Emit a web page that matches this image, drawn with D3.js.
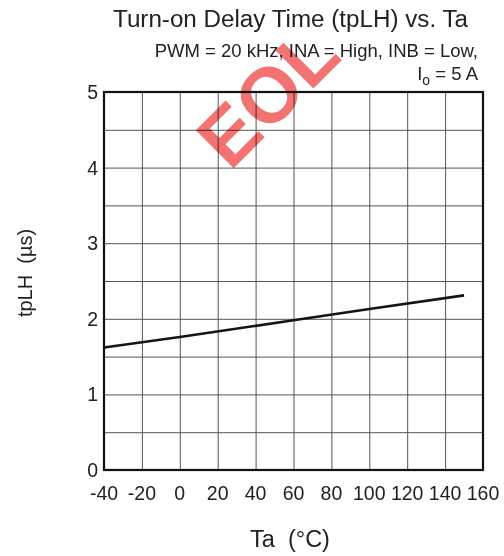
<!DOCTYPE html>
<html>
<head>
<meta charset="utf-8">
<script src="https://cdn.jsdelivr.net/npm/d3@7"></script>
<style>
  html, body { margin: 0; padding: 0; background: #fff; }
  svg { display: block; font-family: "Liberation Sans", Arial, sans-serif; }
</style>
</head>
<body>
<div id="chart"></div>
<script>
// values
const temps = [-40, 0, 60, 100, 150]
const delay = [1.62, 1.76, 1.98, 2.13, 2.31]
const xTicks = [-40, -20, 0, 20, 40, 60, 80, 100, 120, 140, 160]
const yTicks = [0, 1, 2, 3, 4, 5]
const yGrid = [0.5, 1, 1.5, 2, 2.5, 3, 3.5, 4, 4.5]

const width = 504
const height = 556
const margin = { top: 92, right: 21, bottom: 86, left: 104 }

const svg = d3.select('#chart').append('svg')
  .attr('width', width)
  .attr('height', height)

const x = d3.scaleLinear().domain([-40, 160]).range([margin.left, width - margin.right])
const y = d3.scaleLinear().domain([0, 5]).range([height - margin.bottom, margin.top])

// grid
svg.append('g')
  .attr('transform', 'translate(0,' + (height - margin.bottom) + ')')
  .call(d3.axisBottom(x).tickValues(xTicks.slice(1, -1)).tickSize(-(y(0) - y(5))).tickFormat(''))
  .call(g => g.select('.domain').remove())
  .call(g => g.selectAll('line').attr('stroke', '#555').attr('stroke-width', 1))

svg.append('g')
  .attr('transform', 'translate(' + margin.left + ',0)')
  .call(d3.axisLeft(y).tickValues(yGrid).tickSize(-(x(160) - x(-40))).tickFormat(''))
  .call(g => g.select('.domain').remove())
  .call(g => g.selectAll('line').attr('stroke', '#555').attr('stroke-width', 1))

// frame
svg.append('rect')
  .attr('x', x(-40)).attr('y', y(5))
  .attr('width', x(160) - x(-40)).attr('height', y(0) - y(5))
  .attr('fill', 'none').attr('stroke', '#111').attr('stroke-width', 2.2)

// tick labels
svg.append('g').selectAll('text')
  .data(xTicks).enter().append('text')
    .attr('x', d => x(d))
    .attr('y', 500)
    .attr('text-anchor', 'middle')
    .attr('font-size', 19.5)
    .attr('fill', '#222')
    .text(d => d)

svg.append('g').selectAll('text')
  .data(yTicks).enter().append('text')
    .attr('x', 98)
    .attr('y', d => y(d))
    .attr('dy', '0.36em')
    .attr('text-anchor', 'end')
    .attr('font-size', 19.5)
    .attr('fill', '#222')
    .text(d => d)

// curve
const line = d3.line()
  .x((d, i) => x(temps[i]))
  .y(d => y(d))

svg.append('path')
  .datum(delay)
  .attr('d', line)
  .attr('fill', 'none')
  .attr('stroke', '#151515')
  .attr('stroke-width', 2.6)

// titles
svg.append('text')
  .attr('x', 290.5).attr('y', 27)
  .attr('text-anchor', 'middle')
  .attr('font-size', 23)
  .attr('textLength', 355)
  .attr('lengthAdjust', 'spacingAndGlyphs')
  .attr('fill', '#222')
  .text('Turn-on Delay Time (tpLH) vs. Ta')

svg.append('text')
  .attr('x', 478).attr('y', 57)
  .attr('text-anchor', 'end')
  .attr('font-size', 18.5)
  .attr('fill', '#222')
  .text('PWM = 20 kHz, INA = High, INB = Low,')

const io = svg.append('text')
  .attr('x', 478).attr('y', 80)
  .attr('text-anchor', 'end')
  .attr('font-size', 18.5)
  .attr('fill', '#222')
io.append('tspan').text('I')
io.append('tspan').attr('font-size', 14).attr('dy', 5).text('o')
io.append('tspan').attr('dy', -5).text(' = 5 A')

svg.append('text')
  .attr('x', 290).attr('y', 547)
  .attr('text-anchor', 'middle')
  .attr('font-size', 23.5)
  .attr('fill', '#222')
  .attr('xml:space', 'preserve')
  .text('Ta  (\u00b0C)')

svg.append('text')
  .attr('transform', 'translate(32,273) rotate(-90)')
  .attr('text-anchor', 'middle')
  .attr('font-size', 20)
  .attr('fill', '#222')
  .attr('xml:space', 'preserve')
  .text('tpLH  (\u00b5s)')

// EOL stamp
svg.append('text')
  .attr('transform', 'translate(230,172) rotate(-45)')
  .attr('font-size', 78)
  .attr('font-weight', 'bold')
  .attr('fill', '#f37272')
  .style('mix-blend-mode', 'multiply')
  .text('EOL')
</script>
</body>
</html>
